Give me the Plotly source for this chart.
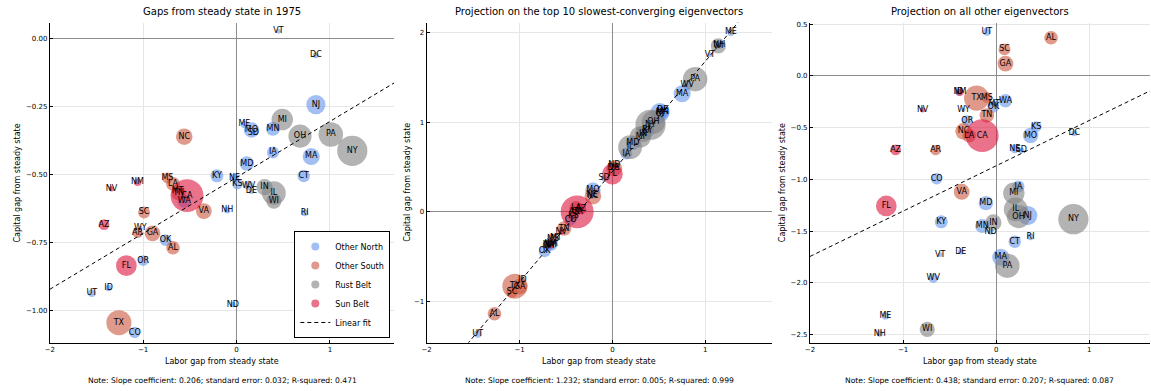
import numpy as np
import plotly.graph_objects as go

# ---------------- data ----------------
states = ["VT","DC","NJ","ME","MO","SD","MN","MI","OH","PA","NY","NC","IA","MA","MD","KY","CT",
          "NE","KS","WV","DE","IN","IL","WI","RI","NH","VA","WA","CA","TN","MT","MS","LA","NM",
          "NV","SC","AZ","WY","AR","GA","OK","AL","OR","FL","ID","UT","ND","TX","CO"]
region = ["Other North","Other North","Other North","Other North","Other North","Other North","Other North",
          "Rust Belt","Rust Belt","Rust Belt","Rust Belt","Other South","Other North","Other North","Other North",
          "Other North","Other North","Other North","Other North","Other North","Other North","Rust Belt",
          "Rust Belt","Rust Belt","Other North","Other North","Other South","Other North","Sun Belt","Other South",
          "Other North","Other South","Other South","Sun Belt","Sun Belt","Other South","Sun Belt","Other North",
          "Other South","Other South","Other North","Other South","Other North","Sun Belt","Other North",
          "Other North","Other North","Other South","Other North"]
# population 1975 (millions) -> marker size
population = [0.47,0.71,7.3,1.06,4.77,0.68,3.93,9.1,10.7,11.9,18.1,5.45,2.87,5.8,4.1,3.4,3.1,
              1.54,2.28,1.8,0.58,5.3,11.2,4.6,0.93,0.82,5.0,3.6,21.5,4.17,0.75,2.35,3.8,1.15,
              0.59,2.82,2.28,0.37,2.14,4.93,2.7,3.68,2.3,8.5,0.83,1.2,0.64,12.5,2.54]

# Panel 1: gaps in 1975
labor_gap = [0.45,0.85,0.85,0.085,0.16,0.18,0.39,0.49,0.68,1.01,1.24,-0.56,0.39,0.80,0.11,-0.21,0.72,
             -0.02,0.01,0.13,0.16,0.30,0.40,0.40,0.73,-0.10,-0.35,-0.56,-0.53,-0.62,-0.63,-0.74,-0.68,-1.06,
             -1.34,-0.99,-1.42,-1.03,-1.06,-0.90,-0.76,-0.68,-1.00,-1.18,-1.37,-1.55,-0.04,-1.26,-1.09]
capital_gap = [0.028,-0.06,-0.242,-0.315,-0.335,-0.345,-0.331,-0.297,-0.358,-0.352,-0.412,-0.36,-0.418,-0.433,
               -0.459,-0.504,-0.505,-0.512,-0.534,-0.54,-0.561,-0.546,-0.568,-0.597,-0.64,-0.631,-0.634,-0.597,
               -0.577,-0.568,-0.56,-0.512,-0.534,-0.528,-0.552,-0.639,-0.684,-0.697,-0.714,-0.716,-0.741,-0.769,
               -0.816,-0.835,-0.917,-0.936,-0.978,-1.045,-1.081]

# Panel 2: projection on top 10 slowest-converging eigenvectors
labor_top10 = [1.05,0.01,0.51,1.275,-0.21,-0.09,0.54,0.30,0.44,0.89,0.41,-0.21,0.15,0.75,0.22,0.38,0.52,
               -0.22,-0.42,0.805,0.54,0.33,0.19,1.14,0.36,1.15,0.02,-0.66,-0.38,-0.52,-0.61,-0.64,-0.39,-0.67,
               -0.55,-1.08,-0.34,-0.68,-0.41,-1.00,-0.73,-1.27,-0.69,0.00,-0.97,-1.45,0.02,-1.05,-0.45]
capital_top10 = [1.756,0.495,1.108,2.005,0.242,0.376,1.119,0.838,1.002,1.482,0.973,0.176,0.652,1.32,0.771,
                 0.906,1.098,0.193,-0.044,1.415,1.139,0.871,0.722,1.853,0.915,1.859,0.486,-0.357,0.0,-0.186,
                 -0.29,-0.303,0.043,-0.37,-0.225,-0.895,0.031,-0.37,0.004,-0.834,-0.441,-1.137,-0.383,0.422,
                 -0.757,-1.362,0.529,-0.83,-0.087]

# Panel 3: projection on all other eigenvectors
labor_other = [-0.60,0.84,0.34,-1.19,0.37,0.27,-0.15,0.19,0.24,0.12,0.83,-0.35,0.24,0.05,-0.11,-0.59,0.20,
               0.20,0.43,-0.675,-0.38,-0.03,0.21,-0.74,0.37,-1.25,-0.37,0.10,-0.15,-0.10,-0.02,-0.10,-0.29,-0.39,
               -0.79,0.09,-1.08,-0.35,-0.65,0.10,-0.03,0.59,-0.31,-1.18,-0.40,-0.10,-0.06,-0.21,-0.64]
capital_other = [-1.728,-0.555,-1.35,-2.32,-0.577,-0.721,-1.45,-1.135,-1.36,-1.834,-1.385,-0.536,-1.07,-1.753,
                 -1.23,-1.41,-1.603,-0.705,-0.49,-1.955,-1.70,-1.417,-1.29,-2.45,-1.555,-2.49,-1.12,-0.24,-0.577,
                 -0.382,-0.27,-0.209,-0.577,-0.158,-0.327,0.256,-0.715,-0.327,-0.718,0.118,-0.30,0.368,-0.433,
                 -1.257,-0.16,0.426,-1.507,-0.215,-0.994]

groups = ["Other North", "Other South", "Rust Belt", "Sun Belt"]
fit_slope = [0.206, 1.232, 0.438]
fit_intercept = [-0.51, 0.45, -0.869]
titles = ["Gaps from steady state in 1975",
          "Projection on the top 10 slowest-converging eigenvectors",
          "Projection on all other eigenvectors"]
notes = ["Note: Slope coefficient: 0.206; standard error: 0.032; R-squared: 0.471",
         "Note: Slope coefficient: 1.232; standard error: 0.005; R-squared: 0.999",
         "Note: Slope coefficient: 0.438; standard error: 0.207; R-squared: 0.087"]
x_ticks = [-2, -1, 0, 1]
y_ticks = [[0.0, -0.25, -0.5, -0.75, -1.0], [2, 1, 0, -1], [0.5, 0.0, -0.5, -1.0, -1.5, -2.0, -2.5]]
y_ticktext = [["0.00", "−0.25", "−0.50", "−0.75", "−1.00"], ["2", "1", "0", "−1"],
              ["0.5", "0.0", "−0.5", "−1.0", "−1.5", "−2.0", "−2.5"]]

# ---------------- styling ----------------
W, H = 1151, 391
FONT = "DejaVu Sans"
colors = {"Other North": "rgb(100,149,237)", "Other South": "rgb(204,86,62)",
          "Rust Belt": "rgb(128,128,128)", "Sun Belt": "rgb(220,20,60)"}
legend_colors = {"Other North": "rgb(162,191,244)", "Other South": "rgb(224,154,141)",
                 "Rust Belt": "rgb(179,179,179)", "Sun Belt": "rgb(234,114,138)"}
px_left = [45, 423.5, 808.5]
px_right = [391, 770, 1150]
px_top, px_bottom = 20.7, 342.3
x_ranges = [[-2, 1.69], [-2, 1.714], [-2, 1.653]]
y_ranges = [[-1.118, 0.06], [-1.459, 2.114], [-2.577, 0.515]]
ytitle_px = [13, 404, 781]

panels = [(labor_gap, capital_gap), (labor_top10, capital_top10), (labor_other, capital_other)]
pop = np.array(population)
marker_size = 7.1 * np.sqrt(pop)
region_arr = np.array(region)

fig = go.Figure()
layout = dict(width=W, height=H, margin=dict(l=0, r=0, t=0, b=0),
              paper_bgcolor="white", plot_bgcolor="white",
              font=dict(family=FONT, color="black", size=8), showlegend=True)
annotations = []

for i, (xs, ys) in enumerate(panels):
    sfx = "" if i == 0 else str(i + 1)
    xa, ya = "x" + sfx, "y" + sfx
    xs = np.array(xs); ys = np.array(ys)
    for g in groups:
        m = region_arr == g
        fig.add_trace(go.Scatter(x=xs[m], y=ys[m], mode="markers", xaxis=xa, yaxis=ya,
                                 marker=dict(size=marker_size[m], sizemode="diameter", color=colors[g],
                                             opacity=0.6, line=dict(width=0)),
                                 showlegend=False, hoverinfo="skip"))
    fig.add_trace(go.Scatter(x=xs, y=ys, mode="text", text=states, textposition="middle center",
                             textfont=dict(family=FONT, size=8, color="black"),
                             xaxis=xa, yaxis=ya, showlegend=False, hoverinfo="skip"))
    lx = np.array(x_ranges[i])
    fig.add_trace(go.Scatter(x=lx, y=fit_intercept[i] + fit_slope[i] * lx, mode="lines",
                             line=dict(color="black", width=1, dash="4px,3px"),
                             xaxis=xa, yaxis=ya, showlegend=False, hoverinfo="skip"))

    dom_x = [px_left[i] / W, px_right[i] / W]
    dom_y = [1 - px_bottom / H, 1 - px_top / H]
    common = dict(showgrid=True, gridcolor="#e6e6e6", gridwidth=1,
                  zeroline=True, zerolinecolor="#8c8c8c", zerolinewidth=1,
                  showline=True, linecolor="black", linewidth=1, mirror=False,
                  ticks="inside", ticklen=3, tickcolor="black", tickwidth=1,
                  tickfont=dict(family=FONT, size=7, color="black"))
    layout["xaxis" + sfx] = dict(common, domain=dom_x, range=x_ranges[i], tickmode="array",
                                  tickvals=x_ticks, ticktext=["−2", "−1", "0", "1"],
                                  anchor=ya)
    layout["yaxis" + sfx] = dict(common, domain=dom_y, range=y_ranges[i], tickmode="array",
                                  tickvals=y_ticks[i], ticktext=y_ticktext[i], anchor=xa)
    cx = (px_left[i] + px_right[i]) / 2 / W
    annotations.append(dict(text=titles[i], x=cx, y=1 - 10 / H, xref="paper", yref="paper",
                            showarrow=False, xanchor="center", yanchor="middle",
                            font=dict(family=FONT, size=10, color="black")))
    annotations.append(dict(text="Labor gap from steady state", x=cx, y=1 - 361 / H,
                            xref="paper", yref="paper", showarrow=False, xanchor="center",
                            yanchor="middle", font=dict(family=FONT, size=8, color="black")))
    annotations.append(dict(text=notes[i], x=cx, y=1 - 380 / H, xref="paper", yref="paper",
                            showarrow=False, xanchor="center", yanchor="middle",
                            font=dict(family=FONT, size=7.6, color="black")))
    annotations.append(dict(text="Capital gap from steady state", x=ytitle_px[i] / W,
                            y=1 - (px_top + px_bottom) / 2 / H, xref="paper", yref="paper",
                            showarrow=False, textangle=-90, xanchor="center", yanchor="middle",
                            font=dict(family=FONT, size=8, color="black")))

# legend-only entries
for g in groups:
    fig.add_trace(go.Scatter(x=[None], y=[None], mode="markers", name=g,
                             marker=dict(size=8, color=legend_colors[g], line=dict(width=0))))
fig.add_trace(go.Scatter(x=[None], y=[None], mode="lines", name="Linear fit",
                         line=dict(color="black", width=1, dash="4px,3px")))

layout["legend"] = dict(x=387 / W, y=1 - 337.7 / H, xanchor="right", yanchor="bottom",
                        bgcolor="white", bordercolor="black", borderwidth=1,
                        font=dict(family=FONT, size=8, color="black"),
                        itemwidth=30, tracegroupgap=0)
layout["annotations"] = annotations
fig.update_layout(**layout)
fig.write_html("out.html")
